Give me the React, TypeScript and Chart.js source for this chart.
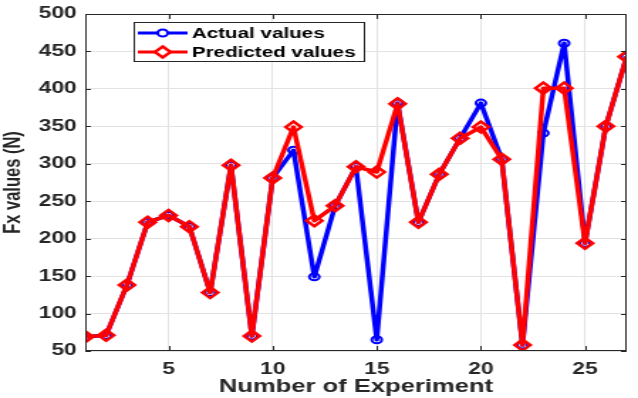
import React, { useEffect, useRef } from "react";
import { Chart, registerables } from "chart.js";

Chart.register(...registerables);

const experiments = [1,2,3,4,5,6,7,8,9,10,11,12,13,14,15,16,17,18,19,20,21,22,23,24,25,26,27];
const actualValues = [69,71,138,222,231,216,128,298,70,281,318,149,244,296,65,381,222,286,334,381,306,58,341,461,194,350,443];
const predictedValues = [69,71,138,222,231,216,128,298,70,281,349,224,244,296,289,380,222,286,334,349,306,58,401,401,194,350,443];
const xTicks = [5,10,15,20,25];

// The reference figure is horizontally stretched: draw on a narrower canvas and stretch it by CSS.
const OUT_W = 638;
const OUT_H = 398;
const STRETCH = 1.42;
const LOGICAL_W = Math.round(OUT_W / STRETCH);

const FONT = "'Liberation Sans', Arial, sans-serif";
const AXIS = "#262626";

const boxPlugin = {
  id: "boxPlugin",
  afterDatasetsDraw(chart: any) {
    const { ctx, chartArea } = chart;
    const { left, right, top, bottom } = chartArea;
    ctx.save();
    ctx.strokeStyle = AXIS;
    ctx.lineWidth = 1;
    ctx.strokeRect(left + 0.5, top + 0.5, right - left - 1, bottom - top - 1);
    const xs = chart.scales.x;
    const ys = chart.scales.y;
    ctx.beginPath();
    for (const v of xTicks) {
      const px = Math.round(xs.getPixelForValue(v)) + 0.5;
      ctx.moveTo(px, bottom); ctx.lineTo(px, bottom - 5);
      ctx.moveTo(px, top); ctx.lineTo(px, top + 5);
    }
    for (let v = 50; v <= 500; v += 50) {
      const py = Math.round(ys.getPixelForValue(v)) + 0.5;
      ctx.moveTo(left, py); ctx.lineTo(left + 4, py);
      ctx.moveTo(right, py); ctx.lineTo(right - 4, py);
    }
    ctx.stroke();

    // legend
    const lx = 94, ly = 22, lw = 162, lh = 39;
    ctx.fillStyle = "#ffffff";
    ctx.fillRect(lx, ly, lw, lh);
    ctx.strokeStyle = AXIS;
    ctx.lineWidth = 1;
    ctx.strokeRect(lx + 0.5, ly + 0.5, lw, lh);
    const rows = [
      { label: "Actual values", color: "#0000ff", y: 33, marker: "circle" },
      { label: "Predicted values", color: "#ff0000", y: 52, marker: "diamond" },
    ];
    for (const r of rows) {
      ctx.strokeStyle = r.color;
      ctx.lineWidth = 3;
      ctx.beginPath();
      ctx.moveTo(97, r.y); ctx.lineTo(132, r.y);
      ctx.stroke();
      ctx.fillStyle = "#ffffff";
      if (r.marker === "circle") {
        ctx.lineWidth = 2;
        ctx.beginPath();
        ctx.arc(114.5, r.y, 3.5, 0, Math.PI * 2);
        ctx.fill();
        ctx.stroke();
      } else {
        ctx.lineWidth = 2.5;
        ctx.beginPath();
        ctx.moveTo(114.5, r.y - 5.5); ctx.lineTo(120, r.y); ctx.lineTo(114.5, r.y + 5.5); ctx.lineTo(109, r.y); ctx.closePath();
        ctx.fill();
        ctx.stroke();
      }
      ctx.fillStyle = "#000000";
      ctx.font = `bold 14.5px ${FONT}`;
      ctx.textBaseline = "middle";
      ctx.textAlign = "left";
      ctx.fillText(r.label, 135, r.y + 1);
    }
    ctx.restore();
  },
};

export default function App() {
  const ref = useRef<HTMLCanvasElement>(null);
  useEffect(() => {
    const chart = new Chart(ref.current!, {
      type: "line",
      data: {
        datasets: [
          {
            label: "Actual values",
            data: experiments.map((x, i) => ({ x, y: actualValues[i] })),
            borderColor: "#0000ff",
            backgroundColor: "rgba(255,255,255,0)",
            borderWidth: 3.5,
            borderJoinStyle: "round",
            pointStyle: "circle",
            pointRadius: 3.5,
            pointBorderWidth: 2,
            pointBackgroundColor: "rgba(255,255,255,0)",
            pointBorderColor: "#0000ff",
            tension: 0,
            order: 1,
          },
          {
            label: "Predicted values",
            data: experiments.map((x, i) => ({ x, y: predictedValues[i] })),
            borderColor: "#ff0000",
            backgroundColor: "rgba(255,255,255,0)",
            borderWidth: 3.5,
            borderJoinStyle: "round",
            pointStyle: "rectRot",
            pointRadius: 5.5,
            pointBorderWidth: 2.5,
            pointBackgroundColor: "rgba(255,255,255,0)",
            pointBorderColor: "#ff0000",
            tension: 0,
            order: 0,
          },
        ],
      },
      options: {
        responsive: false,
        devicePixelRatio: 1,
        animation: false,
        layout: { padding: { left: 0, right: 3, top: 14, bottom: 0 } },
        plugins: { legend: { display: false }, tooltip: { enabled: false } },
        scales: {
          x: {
            type: "linear",
            min: 1,
            max: 27,
            afterBuildTicks: (s: any) => { s.ticks = xTicks.map((v) => ({ value: v })); },
            afterFit: (s: any) => { s.height = 47; s.paddingLeft = 0; s.paddingRight = 0; },
            grid: { color: "#e3e3e3", drawTicks: false },
            border: { display: false },
            ticks: { color: AXIS, font: { family: FONT, size: 16, weight: "bold" }, padding: 9, maxRotation: 0 },
            title: { display: true, text: "Number of Experiment", color: AXIS, font: { family: FONT, size: 18, weight: "bold" }, padding: { top: 0, bottom: 0 } },
          },
          y: {
            min: 50,
            max: 500,
            afterFit: (s: any) => { s.width = 60; s.paddingTop = 0; s.paddingBottom = 0; },
            grid: { color: "#e3e3e3", drawTicks: false },
            border: { display: false },
            ticks: { stepSize: 50, color: AXIS, font: { family: FONT, size: 16, weight: "bold" }, padding: 6 },
            title: { display: true, text: "Fx values (N)", color: AXIS, font: { family: FONT, size: 16.5, weight: "bold" }, padding: { top: 0, bottom: 0 } },
          },
        },
      },
      plugins: [boxPlugin],
    } as any);
    return () => chart.destroy();
  }, []);
  return (
    <div style={{ position: "fixed", left: 0, top: 0, width: OUT_W, height: OUT_H, background: "#fff" }}>
      <canvas
        ref={ref}
        width={LOGICAL_W}
        height={OUT_H}
        style={{ width: OUT_W + "px", height: OUT_H + "px", display: "block" }}
      />
    </div>
  );
}
